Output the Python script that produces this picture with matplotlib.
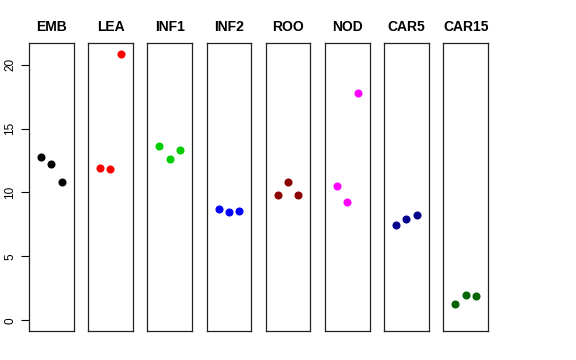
import matplotlib
matplotlib.use("Agg")
import matplotlib.pyplot as plt

plt.rcParams['font.family'] = ['Liberation Sans', 'DejaVu Sans']

groups = ["EMB", "LEA", "INF1", "INF2", "ROO", "NOD", "CAR5", "CAR15"]
colors = ["black", "red", "#00CD00", "blue", "#8B0000", "magenta", "#00008B", "#006400"]
values = [
    [12.81, 12.21, 10.78],
    [11.92, 11.82, 20.83],
    [13.62, 12.63, 13.33],
    [8.67, 8.44, 8.56],
    [9.84, 10.83, 9.84],
    [10.52, 9.22, 17.76],
    [7.42, 7.91, 8.20],
    [1.30, 1.98, 1.88],
]
yticks = [0, 5, 10, 15, 20]

W, H = 576, 360
fig = plt.figure(figsize=(W / 100, H / 100), dpi=100)

left0 = 29.0
step = 59.2
width = 44.5
top = 43.3
bottom = 331.0

ymax = max(max(v) for v in values)
for i, (name, col, vals) in enumerate(zip(groups, colors, values)):
    x0 = left0 + i * step
    ax = fig.add_axes([x0 / W, 1 - bottom / H, width / W, (bottom - top) / H])
    ax.plot([1, 2, 3], vals, "o", color=col, ms=4.8, mec=col)
    ax.set_xlim(-0.16, 4.16)
    ax.set_ylim(-0.04 * ymax, 1.04 * ymax)
    ax.set_xticks([])
    for s in ax.spines.values():
        s.set_linewidth(0.9)
        s.set_color("#222222")
    ax.set_title(name, fontsize=10, fontweight="bold", pad=8.5)
    if i == 0:
        ax.set_yticks(yticks)
        ax.set_yticklabels([str(t) for t in yticks], rotation=90, va="center", fontsize=8.5)
        ax.tick_params(axis="y", length=6, width=0.8, pad=3)
    else:
        ax.set_yticks([])

fig.savefig("out.png", dpi=100)
